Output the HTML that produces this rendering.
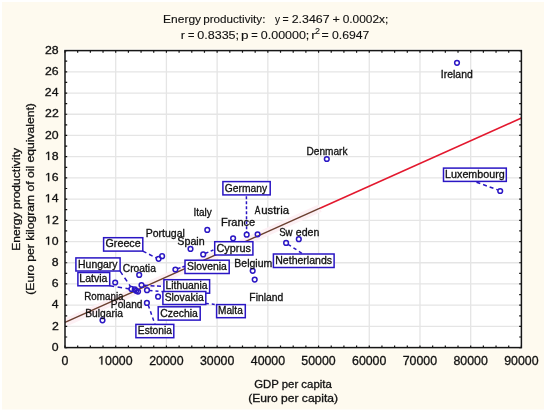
<!DOCTYPE html>
<html><head><meta charset="utf-8"><style>
html,body{margin:0;padding:0;background:#fff;}
svg{display:block;font-family:"Liberation Sans", sans-serif;will-change:transform;}
text{fill:#111;stroke:#111;stroke-width:0.3px;}
</style></head><body>
<svg width="550" height="415" viewBox="0 0 550 415">
<rect x="0" y="0" width="550" height="415" fill="#ffffff"/>
<rect x="2" y="2" width="542" height="407.5" fill="#fefaef"/>
<rect x="63.0" y="48.6" width="460.4" height="301.0" fill="#fffdf7"/>
<rect x="65.0" y="50.6" width="456.4" height="297.0" fill="#ffffff"/>
<path d="M115.71 50.6V347.6 M166.42 50.6V347.6 M217.13 50.6V347.6 M267.84 50.6V347.6 M318.56 50.6V347.6 M369.27 50.6V347.6 M419.98 50.6V347.6 M470.69 50.6V347.6 M65.0 326.39H521.4 M65.0 305.17H521.4 M65.0 283.96H521.4 M65.0 262.74H521.4 M65.0 241.53H521.4 M65.0 220.31H521.4 M65.0 199.10H521.4 M65.0 177.89H521.4 M65.0 156.67H521.4 M65.0 135.46H521.4 M65.0 114.24H521.4 M65.0 93.03H521.4 M65.0 71.81H521.4" stroke="#e5e5e5" stroke-width="1.3" fill="none"/>
<path d="M66.0 322.3L320 208.21" stroke="#fdf0f4" stroke-width="8" fill="none"/>
<path d="M65.0 322.3L320 208.21" stroke="#6a3e2e" stroke-width="1.4" fill="none"/>
<path d="M320 208.21L521.4 118.1" stroke="#e3182e" stroke-width="1.6" fill="none"/>
<path d="M65.00 347.6v-2.2M65.00 50.6v2.2 M77.68 347.6v-2.2M77.68 50.6v2.2 M90.36 347.6v-2.2M90.36 50.6v2.2 M103.03 347.6v-2.2M103.03 50.6v2.2 M115.71 347.6v-2.2M115.71 50.6v2.2 M128.39 347.6v-2.2M128.39 50.6v2.2 M141.07 347.6v-2.2M141.07 50.6v2.2 M153.74 347.6v-2.2M153.74 50.6v2.2 M166.42 347.6v-2.2M166.42 50.6v2.2 M179.10 347.6v-2.2M179.10 50.6v2.2 M191.78 347.6v-2.2M191.78 50.6v2.2 M204.46 347.6v-2.2M204.46 50.6v2.2 M217.13 347.6v-2.2M217.13 50.6v2.2 M229.81 347.6v-2.2M229.81 50.6v2.2 M242.49 347.6v-2.2M242.49 50.6v2.2 M255.17 347.6v-2.2M255.17 50.6v2.2 M267.84 347.6v-2.2M267.84 50.6v2.2 M280.52 347.6v-2.2M280.52 50.6v2.2 M293.20 347.6v-2.2M293.20 50.6v2.2 M305.88 347.6v-2.2M305.88 50.6v2.2 M318.56 347.6v-2.2M318.56 50.6v2.2 M331.23 347.6v-2.2M331.23 50.6v2.2 M343.91 347.6v-2.2M343.91 50.6v2.2 M356.59 347.6v-2.2M356.59 50.6v2.2 M369.27 347.6v-2.2M369.27 50.6v2.2 M381.94 347.6v-2.2M381.94 50.6v2.2 M394.62 347.6v-2.2M394.62 50.6v2.2 M407.30 347.6v-2.2M407.30 50.6v2.2 M419.98 347.6v-2.2M419.98 50.6v2.2 M432.66 347.6v-2.2M432.66 50.6v2.2 M445.33 347.6v-2.2M445.33 50.6v2.2 M458.01 347.6v-2.2M458.01 50.6v2.2 M470.69 347.6v-2.2M470.69 50.6v2.2 M483.37 347.6v-2.2M483.37 50.6v2.2 M496.04 347.6v-2.2M496.04 50.6v2.2 M508.72 347.6v-2.2M508.72 50.6v2.2 M521.40 347.6v-2.2M521.40 50.6v2.2 M65.0 347.60h2.2M521.4 347.60h-2.2 M65.0 336.99h2.2M521.4 336.99h-2.2 M65.0 326.39h2.2M521.4 326.39h-2.2 M65.0 315.78h2.2M521.4 315.78h-2.2 M65.0 305.17h2.2M521.4 305.17h-2.2 M65.0 294.56h2.2M521.4 294.56h-2.2 M65.0 283.96h2.2M521.4 283.96h-2.2 M65.0 273.35h2.2M521.4 273.35h-2.2 M65.0 262.74h2.2M521.4 262.74h-2.2 M65.0 252.14h2.2M521.4 252.14h-2.2 M65.0 241.53h2.2M521.4 241.53h-2.2 M65.0 230.92h2.2M521.4 230.92h-2.2 M65.0 220.31h2.2M521.4 220.31h-2.2 M65.0 209.71h2.2M521.4 209.71h-2.2 M65.0 199.10h2.2M521.4 199.10h-2.2 M65.0 188.49h2.2M521.4 188.49h-2.2 M65.0 177.89h2.2M521.4 177.89h-2.2 M65.0 167.28h2.2M521.4 167.28h-2.2 M65.0 156.67h2.2M521.4 156.67h-2.2 M65.0 146.06h2.2M521.4 146.06h-2.2 M65.0 135.46h2.2M521.4 135.46h-2.2 M65.0 124.85h2.2M521.4 124.85h-2.2 M65.0 114.24h2.2M521.4 114.24h-2.2 M65.0 103.64h2.2M521.4 103.64h-2.2 M65.0 93.03h2.2M521.4 93.03h-2.2 M65.0 82.42h2.2M521.4 82.42h-2.2 M65.0 71.81h2.2M521.4 71.81h-2.2 M65.0 61.21h2.2M521.4 61.21h-2.2 M65.0 50.60h2.2M521.4 50.60h-2.2" stroke="#111" stroke-width="1.2" fill="none"/>
<rect x="65.0" y="50.6" width="456.4" height="297.0" fill="none" stroke="#161616" stroke-width="1.5"/>
<path d="M476.5 182.2L497.8 189.9" stroke="#2a16c4" stroke-width="1.5" stroke-dasharray="4 3" fill="none"/>
<path d="M246.4 196.2L246.6 232.2" stroke="#2a16c4" stroke-width="1.5" stroke-dasharray="3 2" fill="none"/>
<path d="M142.8 251.1L156.8 258.2" stroke="#2a16c4" stroke-width="1.5" stroke-dasharray="4 3" fill="none"/>
<path d="M205.6 253.3L214.7 249.4" stroke="#2a16c4" stroke-width="1.5" stroke-dasharray="3 2.5" fill="none"/>
<path d="M177.6 268.6L185.0 266.2" stroke="#2a16c4" stroke-width="1.5" stroke-dasharray="3 2" fill="none"/>
<path d="M288.0 244.3L303.0 254.0" stroke="#2a16c4" stroke-width="1.5" stroke-dasharray="3.5 3" fill="none"/>
<path d="M120.1 271.1L130.6 286.6" stroke="#2a16c4" stroke-width="1.5" stroke-dasharray="4.5 3.5" fill="none"/>
<path d="M109.7 285.8L129.3 288.9" stroke="#2a16c4" stroke-width="1.5" stroke-dasharray="4.5 3.5" fill="none"/>
<path d="M144.0 285.3L163.9 286.5" stroke="#2a16c4" stroke-width="1.5" stroke-dasharray="4 2.5" fill="none"/>
<path d="M149.5 290.5L162.9 291.7" stroke="#2a16c4" stroke-width="1.5" stroke-dasharray="3 3" fill="none"/>
<path d="M148.3 305.2L155.0 324.4" stroke="#2a16c4" stroke-width="1.5" stroke-dasharray="3.5 3" fill="none"/>
<path d="M205.8 303.4L216.6 304.6" stroke="#2a16c4" stroke-width="1.5" stroke-dasharray="3 3" fill="none"/>
<circle cx="457" cy="62.8" r="2.35" fill="none" stroke="#2a16c4" stroke-width="1.5"/>
<circle cx="326.8" cy="159" r="2.35" fill="none" stroke="#2a16c4" stroke-width="1.5"/>
<circle cx="500.2" cy="191" r="2.35" fill="none" stroke="#2a16c4" stroke-width="1.5"/>
<circle cx="207.3" cy="229.9" r="2.35" fill="none" stroke="#2a16c4" stroke-width="1.5"/>
<circle cx="246.7" cy="234.7" r="2.35" fill="none" stroke="#2a16c4" stroke-width="1.5"/>
<circle cx="257.6" cy="234.3" r="2.35" fill="none" stroke="#2a16c4" stroke-width="1.5"/>
<circle cx="233.1" cy="238.3" r="2.35" fill="none" stroke="#2a16c4" stroke-width="1.5"/>
<circle cx="190.5" cy="248.9" r="2.35" fill="none" stroke="#2a16c4" stroke-width="1.5"/>
<circle cx="203.2" cy="254.4" r="2.35" fill="none" stroke="#2a16c4" stroke-width="1.5"/>
<circle cx="298.8" cy="239.2" r="2.35" fill="none" stroke="#2a16c4" stroke-width="1.5"/>
<circle cx="286.1" cy="242.9" r="2.35" fill="none" stroke="#2a16c4" stroke-width="1.5"/>
<circle cx="252.7" cy="270.8" r="2.35" fill="none" stroke="#2a16c4" stroke-width="1.5"/>
<circle cx="254.7" cy="279.6" r="2.35" fill="none" stroke="#2a16c4" stroke-width="1.5"/>
<circle cx="158.6" cy="258.8" r="2.35" fill="none" stroke="#2a16c4" stroke-width="1.5"/>
<circle cx="162.1" cy="256.2" r="2.35" fill="none" stroke="#2a16c4" stroke-width="1.5"/>
<circle cx="175.4" cy="269.5" r="2.35" fill="none" stroke="#2a16c4" stroke-width="1.5"/>
<circle cx="139.2" cy="274.9" r="2.35" fill="none" stroke="#2a16c4" stroke-width="1.5"/>
<circle cx="115.2" cy="282.5" r="2.35" fill="none" stroke="#2a16c4" stroke-width="1.5"/>
<circle cx="131.4" cy="288.9" r="2.35" fill="none" stroke="#2a16c4" stroke-width="1.5"/>
<circle cx="134.8" cy="289.4" r="2.35" fill="none" stroke="#2a16c4" stroke-width="1.5"/>
<circle cx="136.2" cy="290.8" r="2.35" fill="none" stroke="#2a16c4" stroke-width="1.5"/>
<circle cx="138.0" cy="291.6" r="2.35" fill="none" stroke="#2a16c4" stroke-width="1.5"/>
<circle cx="141.5" cy="285.0" r="2.35" fill="none" stroke="#2a16c4" stroke-width="1.5"/>
<circle cx="147" cy="290.2" r="2.35" fill="none" stroke="#2a16c4" stroke-width="1.5"/>
<circle cx="158.1" cy="296.7" r="2.35" fill="none" stroke="#2a16c4" stroke-width="1.5"/>
<circle cx="146.9" cy="302.9" r="2.35" fill="none" stroke="#2a16c4" stroke-width="1.5"/>
<circle cx="102.5" cy="320.3" r="2.35" fill="none" stroke="#2a16c4" stroke-width="1.5"/>
<rect x="443.5" y="168.1" width="62.80" height="13.30" fill="#ffffff" stroke="#2a16c4" stroke-width="1.5"/>
<text transform="translate(445.12,177.60) scale(1.0628,1)" font-size="10.1">Luxembourg</text>
<rect x="222.9" y="181.6" width="47.30" height="13.30" fill="#ffffff" stroke="#2a16c4" stroke-width="1.5"/>
<text transform="translate(224.78,191.60) scale(1.0193,1)" font-size="10.1">Germany</text>
<rect x="214.7" y="241.7" width="38.20" height="13.30" fill="#ffffff" stroke="#2a16c4" stroke-width="1.5"/>
<text transform="translate(216.55,251.70) scale(1.0735,1)" font-size="10.1">Cyprus</text>
<rect x="273.4" y="254.0" width="60.70" height="13.50" fill="#ffffff" stroke="#2a16c4" stroke-width="1.5"/>
<text transform="translate(275.24,263.70) scale(1.0438,1)" font-size="10.1">Netherlands</text>
<rect x="103.6" y="237.7" width="39.20" height="13.40" fill="#ffffff" stroke="#2a16c4" stroke-width="1.5"/>
<text transform="translate(105.56,247.30) scale(1.0602,1)" font-size="10.1">Greece</text>
<rect x="185.0" y="260.2" width="44.20" height="13.30" fill="#ffffff" stroke="#2a16c4" stroke-width="1.5"/>
<text transform="translate(187.03,269.70) scale(1.0265,1)" font-size="10.1">Slovenia</text>
<rect x="75.9" y="257.9" width="44.20" height="13.10" fill="#ffffff" stroke="#2a16c4" stroke-width="1.5"/>
<text transform="translate(78.04,267.90) scale(1.0341,1)" font-size="10.1">Hungary</text>
<rect x="77.9" y="272.5" width="31.80" height="13.30" fill="#ffffff" stroke="#2a16c4" stroke-width="1.5"/>
<text transform="translate(79.33,281.80) scale(1.0451,1)" font-size="10.1">Latvia</text>
<rect x="163.9" y="279.7" width="45.70" height="13.50" fill="#ffffff" stroke="#2a16c4" stroke-width="1.5"/>
<text transform="translate(165.45,289.20) scale(1.0282,1)" font-size="10.1">Lithuania</text>
<rect x="162.9" y="291.5" width="42.90" height="13.00" fill="#ffffff" stroke="#2a16c4" stroke-width="1.5"/>
<text transform="translate(164.63,301.00) scale(1.0261,1)" font-size="10.1">Slovakia</text>
<rect x="158.2" y="306.8" width="42.00" height="13.30" fill="#ffffff" stroke="#2a16c4" stroke-width="1.5"/>
<text transform="translate(160.17,316.50) scale(1.0312,1)" font-size="10.1">Czechia</text>
<rect x="216.6" y="304.6" width="28.70" height="13.10" fill="#ffffff" stroke="#2a16c4" stroke-width="1.5"/>
<text transform="translate(218.07,313.70) scale(1.0013,1)" font-size="10.1">Malta</text>
<rect x="135.9" y="324.4" width="37.90" height="13.30" fill="#ffffff" stroke="#2a16c4" stroke-width="1.5"/>
<text transform="translate(137.86,333.60) scale(1.0104,1)" font-size="10.1">Estonia</text>
<text transform="translate(440.84,77.70) scale(1.0240,1)" font-size="10.2">Ireland</text>
<text transform="translate(306.47,154.90) scale(0.9912,1)" font-size="10.2">Denmark</text>
<text transform="translate(254.78,214.00) scale(0.8280,1)" font-size="10.2">A</text>
<text transform="translate(261.26,214.00) scale(1.1120,1)" font-size="10.2">ustria</text>
<text transform="translate(220.89,225.50) scale(1.0835,1)" font-size="10.2">France</text>
<text transform="translate(193.48,216.10) scale(0.9805,1)" font-size="10.2">Italy</text>
<text transform="translate(145.74,237.10) scale(1.0309,1)" font-size="10.2">Portugal</text>
<text transform="translate(177.31,245.20) scale(1.0496,1)" font-size="10.2">Spain</text>
<text transform="translate(279.16,236.00) scale(0.9468,1)" font-size="10.2">Sw</text>
<text transform="translate(295.85,236.00) scale(1.0373,1)" font-size="10.2">eden</text>
<text transform="translate(234.34,267.00) scale(1.0300,1)" font-size="10.2">Belgium</text>
<text transform="translate(122.78,271.90) scale(1.0073,1)" font-size="10.2">Croatia</text>
<text transform="translate(84.29,299.50) scale(0.9629,1)" font-size="10.2">Romania</text>
<text transform="translate(249.35,300.50) scale(1.0138,1)" font-size="10.2">Finland</text>
<text transform="translate(110.87,308.30) scale(0.9945,1)" font-size="10.2">Poland</text>
<text transform="translate(85.26,316.50) scale(1.0058,1)" font-size="10.2">Bulgaria</text>
<text transform="translate(51.75,350.85) scale(1.0500,1)" font-size="11.7">0</text>
<text transform="translate(51.89,329.64) scale(1.0500,1)" font-size="11.7">2</text>
<text transform="translate(51.63,308.42) scale(1.0500,1)" font-size="11.7">4</text>
<text transform="translate(51.81,287.21) scale(1.0500,1)" font-size="11.7">6</text>
<text transform="translate(51.80,265.99) scale(1.0500,1)" font-size="11.7">8</text>
<text transform="translate(44.92,244.78) scale(1.0500,1)" font-size="11.7"> 0</text>
<path transform="translate(44.92,244.78) scale(0.005999,-0.005713) translate(0,0)" d="M515 0L515 1237L197 1010L197 1180L530 1409L696 1409L696 0Z" fill="#111" stroke="#111" stroke-width="52.5"/>
<text transform="translate(45.05,223.56) scale(1.0500,1)" font-size="11.7"> 2</text>
<path transform="translate(45.05,223.56) scale(0.005999,-0.005713) translate(0,0)" d="M515 0L515 1237L197 1010L197 1180L530 1409L696 1409L696 0Z" fill="#111" stroke="#111" stroke-width="52.5"/>
<text transform="translate(44.80,202.35) scale(1.0500,1)" font-size="11.7"> 4</text>
<path transform="translate(44.80,202.35) scale(0.005999,-0.005713) translate(0,0)" d="M515 0L515 1237L197 1010L197 1180L530 1409L696 1409L696 0Z" fill="#111" stroke="#111" stroke-width="52.5"/>
<text transform="translate(44.98,181.14) scale(1.0500,1)" font-size="11.7"> 6</text>
<path transform="translate(44.98,181.14) scale(0.005999,-0.005713) translate(0,0)" d="M515 0L515 1237L197 1010L197 1180L530 1409L696 1409L696 0Z" fill="#111" stroke="#111" stroke-width="52.5"/>
<text transform="translate(44.97,159.92) scale(1.0500,1)" font-size="11.7"> 8</text>
<path transform="translate(44.97,159.92) scale(0.005999,-0.005713) translate(0,0)" d="M515 0L515 1237L197 1010L197 1180L530 1409L696 1409L696 0Z" fill="#111" stroke="#111" stroke-width="52.5"/>
<text transform="translate(44.92,138.71) scale(1.0500,1)" font-size="11.7">20</text>
<text transform="translate(45.05,117.49) scale(1.0500,1)" font-size="11.7">22</text>
<text transform="translate(44.80,96.28) scale(1.0500,1)" font-size="11.7">24</text>
<text transform="translate(44.98,75.06) scale(1.0500,1)" font-size="11.7">26</text>
<text transform="translate(44.97,53.85) scale(1.0500,1)" font-size="11.7">28</text>
<text transform="translate(61.56,364.60) scale(1.0300,1)" font-size="12">0</text>
<text transform="translate(98.17,364.60) scale(1.0300,1)" font-size="12"> 0000</text>
<path transform="translate(98.17,364.60) scale(0.006035,-0.005859) translate(0,0)" d="M515 0L515 1237L197 1010L197 1180L530 1409L696 1409L696 0Z" fill="#111" stroke="#111" stroke-width="51.2"/>
<text transform="translate(149.17,364.60) scale(1.0300,1)" font-size="12">20000</text>
<text transform="translate(199.95,364.60) scale(1.0300,1)" font-size="12">30000</text>
<text transform="translate(250.76,364.60) scale(1.0300,1)" font-size="12">40000</text>
<text transform="translate(301.36,364.60) scale(1.0300,1)" font-size="12">50000</text>
<text transform="translate(352.01,364.60) scale(1.0300,1)" font-size="12">60000</text>
<text transform="translate(402.72,364.60) scale(1.0300,1)" font-size="12">70000</text>
<text transform="translate(453.48,364.60) scale(1.0300,1)" font-size="12">80000</text>
<text transform="translate(504.17,364.60) scale(1.0300,1)" font-size="12">90000</text>
<text transform="translate(163.12,22.70) scale(1.0616,1)" font-size="11.3" style="stroke-width:0.12px">Energy</text>
<text transform="translate(203.25,22.70) scale(1.0319,1)" font-size="11.3" style="stroke-width:0.12px">productivity:</text>
<text transform="translate(274.98,22.70) scale(0.8928,1)" font-size="11.3" style="stroke-width:0.12px">y</text>
<text transform="translate(282.59,22.70) scale(0.9290,1)" font-size="11.3" style="stroke-width:0.12px">=</text>
<text transform="translate(291.68,22.70) scale(1.0980,1)" font-size="11.3" style="stroke-width:0.12px">2.3467</text>
<text transform="translate(332.49,22.70) scale(1.1111,1)" font-size="11.3" style="stroke-width:0.12px">+</text>
<text transform="translate(342.63,22.70) scale(1.0574,1)" font-size="11.3" style="stroke-width:0.12px">0.0002x;</text>
<text transform="translate(180.65,38.80) scale(1.0847,1)" font-size="11.8" style="stroke-width:0.12px">r</text>
<text transform="translate(187.96,38.80) scale(0.9419,1)" font-size="11.8" style="stroke-width:0.12px">=</text>
<text transform="translate(197.21,38.80) scale(1.0648,1)" font-size="11.8" style="stroke-width:0.12px">0.8335;</text>
<text transform="translate(241.03,38.80) scale(1.1495,1)" font-size="11.8" style="stroke-width:0.12px">p</text>
<text transform="translate(251.26,38.80) scale(0.9419,1)" font-size="11.8" style="stroke-width:0.12px">=</text>
<text transform="translate(260.81,38.80) scale(1.0583,1)" font-size="11.8" style="stroke-width:0.12px">0.00000;</text>
<text transform="translate(311.20,38.80) scale(1.1525,1)" font-size="11.8" style="stroke-width:0.12px">r</text>
<text transform="translate(321.40,38.80) scale(1.0466,1)" font-size="11.8" style="stroke-width:0.12px">=</text>
<text transform="translate(332.02,38.80) scale(1.0360,1)" font-size="11.8" style="stroke-width:0.12px">0.6947</text>
<text transform="translate(314.95,33.70) scale(1.0465,1)" font-size="8.6" style="stroke-width:0.1px">2</text>
<text transform="translate(254.13,387.50) scale(1.0355,1)" font-size="11">GDP per capita</text>
<text transform="translate(248.15,402.00) scale(1.0985,1)" font-size="11">(Euro per capita)</text>
<text transform="translate(19.70,250.69) rotate(-90) scale(1.0980,1)" x="0" y="0" font-size="11">Energy productivity</text>
<text transform="translate(34.40,294.75) rotate(-90) scale(1.1046,1)" x="0" y="0" font-size="11">(Euro per kilogram of oil equivalent)</text>
</svg>
</body></html>
